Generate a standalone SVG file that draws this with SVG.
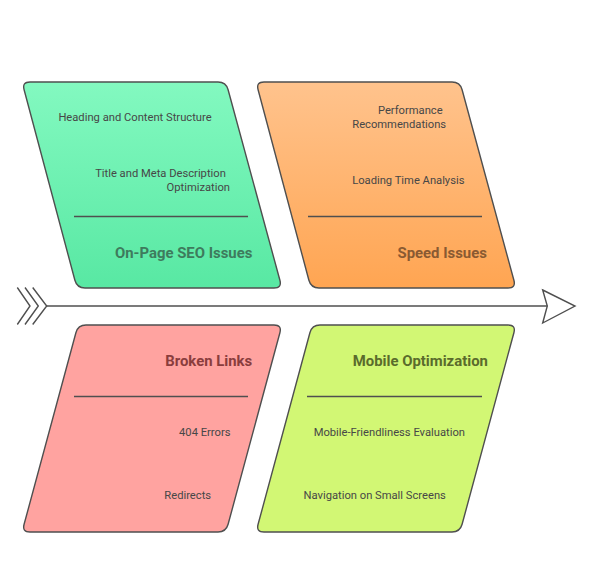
<svg xmlns="http://www.w3.org/2000/svg" width="594" height="569" viewBox="0 0 594 569">
<defs>
<linearGradient id="gGreen" x1="0" y1="0" x2="0" y2="1"><stop offset="0" stop-color="#83F9C0"/><stop offset="1" stop-color="#58E8A3"/></linearGradient>
<linearGradient id="gOrange" x1="0" y1="0" x2="0" y2="1"><stop offset="0" stop-color="#FFC38D"/><stop offset="1" stop-color="#FFA552"/></linearGradient>
<style>
.shape{stroke:#4f4f4f;stroke-width:1.4}
.div{stroke:#4f4f4f;stroke-width:1.4}
.item{font-family:Roboto,"Liberation Sans",sans-serif;font-size:11.2px;fill:#474747;text-anchor:middle}
.title{font-family:Roboto,"Liberation Sans",sans-serif;font-size:14.9px;font-weight:bold;text-anchor:middle}
.spine{stroke:#4f4f4f;stroke-width:1.4;fill:none}
</style>
</defs>
<rect width="594" height="569" fill="#ffffff"/>
<g id="connectors">
<path class="spine" d="M46.7,306 L547.3,306"/>
<path class="spine" d="M17.3,287.5 L30,306 L17.3,324.5 M25,287.5 L38.3,306 L25,324.5 M32.7,287.5 L46.7,306 L32.7,324.5"/>
<path class="spine" fill="#ffffff" d="M542.7,290 L575,306 L542.7,323 L547.3,306 Z"/>
</g>
<g id="onpage">
<path class="shape" fill="url(#gGreen)" d="M30,82 L218,82 Q226,82 228.1,89.7 L279.9,280.3 Q282,288 274,288 L85,288 Q77,288 74.9,280.3 L24.1,89.7 Q22,82 30,82 Z"/>
<line class="div" x1="74" y1="216.5" x2="248" y2="216.5"/>
<text class="item" x="135" y="121">Heading and Content Structure</text>
<text class="item" x="160.5" y="177">Title and Meta Description</text>
<text class="item" x="198.3" y="190.5">Optimization</text>
<text class="title" x="183.7" y="258.3" fill="#3E7B5D">On-Page SEO Issues</text>
</g>
<g id="speed">
<path class="shape" fill="url(#gOrange)" d="M264,82 L452,82 Q460,82 462.1,89.7 L513.9,280.3 Q516,288 508,288 L319,288 Q311,288 308.9,280.3 L258.1,89.7 Q256,82 264,82 Z"/>
<line class="div" x1="308" y1="216.5" x2="482" y2="216.5"/>
<text class="item" x="410.3" y="114">Performance</text>
<text class="item" x="399.2" y="128">Recommendations</text>
<text class="item" x="408.3" y="184">Loading Time Analysis</text>
<text class="title" x="442.2" y="258.3" fill="#8A5A32">Speed Issues</text>
</g>
<g id="broken">
<path class="shape" fill="#FFA3A0" d="M86,325 L274,325 Q282,325 279.9,332.7 L228.1,524.3 Q226,532 218,532 L30,532 Q22,532 24.1,524.3 L75.9,332.7 Q78,325 86,325 Z"/>
<line class="div" x1="74" y1="396.5" x2="248" y2="396.5"/>
<text class="title" x="208.7" y="366.3" fill="#8A3D3D">Broken Links</text>
<text class="item" x="204.8" y="436">404 Errors</text>
<text class="item" x="187.7" y="499">Redirects</text>
</g>
<g id="mobile">
<path class="shape" fill="#D2F774" d="M320,325 L508,325 Q516,325 513.9,332.7 L462.1,524.3 Q460,532 452,532 L264,532 Q256,532 258.1,524.3 L309.9,332.7 Q312,325 320,325 Z"/>
<line class="div" x1="307" y1="396.5" x2="482" y2="396.5"/>
<text class="title" x="420.3" y="366.3" fill="#5A6B2C">Mobile Optimization</text>
<text class="item" x="389.3" y="436">Mobile-Friendliness Evaluation</text>
<text class="item" x="374.7" y="499">Navigation on Small Screens</text>
</g>
</svg>
